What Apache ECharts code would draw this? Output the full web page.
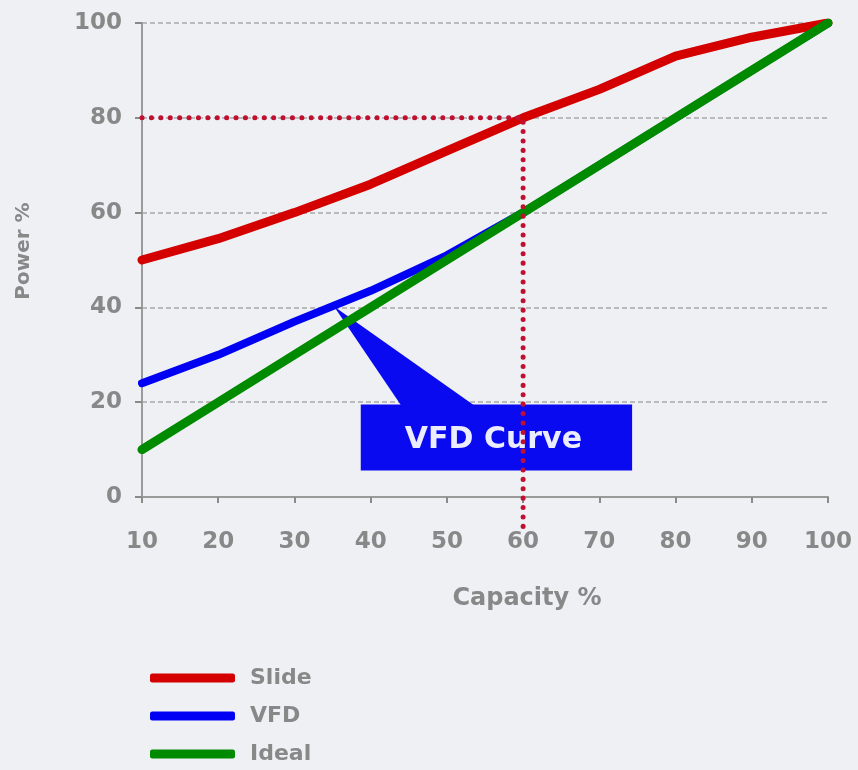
<!DOCTYPE html>
<html>
<head>
<meta charset="utf-8">
<script src="https://cdn.jsdelivr.net/npm/echarts@6/dist/echarts.min.js"></script>
<style>
  html, body { margin: 0; padding: 0; background: #eef0f4; }
  #chart { width: 858px; height: 770px; }
</style>
</head>
<body>
<div id="chart"></div>
<script>
// Capacity (%) on the x axis, power draw (%) on the y axis
const capacity = [10, 20, 30, 40, 50, 60, 70, 80, 90, 100];
const slidePower = [50, 54.5, 60, 66, 73, 80, 86, 93, 97, 100];
const vfdPower = [24, 30, 37, 43.5, 51, 60, 70, 80, 90, 100];
const idealPower = [10, 20, 30, 40, 50, 60, 70, 80, 90, 100];
const yTicks = [0, 20, 40, 60, 80, 100];

// Dotted guide: 60 % capacity -> 80 % power on the slide curve
const guideX = [10, 60, 60];
const guideY = [80, 80, -8];

// Callout box [x1, y1, x2, y2], pointer tip [x, y], pointer base [xLeft, xRight]
const calloutBox = [38.7, 19.5, 74.3, 5.6];
const calloutTip = [35.2, 40.2];
const calloutBase = [44, 53.6];
const calloutText = 'VFD Curve';

const zip = (xs, ys) => xs.map((x, i) => [x, ys[i]]);

const chart = echarts.init(document.getElementById('chart'));
const font = 'DejaVu Sans';
const grey = '#888888';

chart.setOption({
  backgroundColor: '#eef0f4',
  animation: false,
  textStyle: { fontFamily: font },
  grid: { left: 142, right: 30, top: 23, bottom: 273, containLabel: false },
  legend: {
    data: ['Slide', 'VFD', 'Ideal'],
    orient: 'vertical',
    left: 150,
    top: 666,
    padding: 0,
    icon: 'roundRect',
    itemWidth: 85,
    itemHeight: 9,
    itemGap: 14,
    textStyle: { color: grey, fontSize: 22, fontWeight: 'bold', fontFamily: font,
      lineHeight: 24, padding: [0, 0, 0, 10] }
  },
  xAxis: {
    type: 'value',
    min: 10, max: 100, interval: 10,
    name: 'Capacity %',
    nameLocation: 'middle',
    nameGap: 90,
    nameTextStyle: { color: grey, fontSize: 24, fontWeight: 'bold', padding: [0, 0, 0, 84] },
    axisLine: { lineStyle: { color: '#9a9a9a', width: 2 } },
    axisTick: { show: true, length: 6, lineStyle: { color: '#8a8a8a', width: 2 } },
    axisLabel: { color: grey, fontSize: 23, fontWeight: 'bold', margin: 34 },
    splitLine: { show: false }
  },
  yAxis: {
    type: 'value',
    min: 0, max: 100, interval: 20,
    name: 'Power %',
    nameLocation: 'middle',
    nameGap: 108,
    nameTextStyle: { color: grey, fontSize: 20, fontWeight: 'bold', padding: [0, 0, 0, 18] },
    axisLine: { show: true, lineStyle: { color: '#9a9a9a', width: 2 } },
    axisTick: { show: true, length: 7, lineStyle: { color: '#8a8a8a', width: 2 } },
    axisLabel: { color: grey, fontSize: 23, fontWeight: 'bold', margin: 20,
      formatter: v => (yTicks.includes(v) ? String(v) : '') },
    splitLine: { show: true, lineStyle: { color: '#a8a8a8', width: 1.5, type: [5, 3] } }
  },
  series: [
    {
      name: 'callout',
      type: 'custom',
      z: 1,
      clip: false,
      silent: true,
      data: [[...calloutBox, ...calloutTip, ...calloutBase]],
      encode: { x: [0, 2, 4, 6, 7], y: [1, 3, 5] },
      renderItem: (params, api) => {
        const p1 = api.coord([api.value(0), api.value(1)]);
        const p2 = api.coord([api.value(2), api.value(3)]);
        const tip = api.coord([api.value(4), api.value(5)]);
        const bl = api.coord([api.value(6), api.value(1)]);
        const br = api.coord([api.value(7), api.value(1)]);
        const fill = '#0a0af0';
        return {
          type: 'group',
          children: [
            { type: 'rect', shape: { x: p1[0], y: p1[1], width: p2[0] - p1[0], height: p2[1] - p1[1] },
              style: { fill } },
            { type: 'polygon', shape: { points: [tip, [bl[0], bl[1] + 1], [br[0], br[1] + 1]] },
              style: { fill } },
            { type: 'text', x: (p1[0] + p2[0]) / 2 - 3, y: (p1[1] + p2[1]) / 2 + 3,
              style: { text: calloutText, fill: '#ececff', fontSize: 30, fontWeight: 'bold',
                fontFamily: font, align: 'center', verticalAlign: 'middle' } }
          ]
        };
      }
    },
    {
      name: 'Slide', type: 'line', z: 3, symbol: 'none',
      data: zip(capacity, slidePower),
      lineStyle: { color: '#d40000', width: 9, cap: 'round', join: 'round' },
      itemStyle: { color: '#d40000' }
    },
    {
      name: 'VFD', type: 'line', z: 3, symbol: 'none',
      data: zip(capacity, vfdPower),
      lineStyle: { color: '#0000f5', width: 8, cap: 'round', join: 'round' },
      itemStyle: { color: '#0000f5' }
    },
    {
      name: 'Ideal', type: 'line', z: 4, symbol: 'none',
      data: zip(capacity, idealPower),
      lineStyle: { color: '#008a00', width: 9, cap: 'round', join: 'round' },
      itemStyle: { color: '#008a00' }
    },
    {
      name: 'guide', type: 'line', z: 5, symbol: 'none', clip: false, silent: true,
      data: zip(guideX, guideY),
      lineStyle: { color: '#c01030', width: 5, type: [0.1, 9.3], cap: 'round' }
    }
  ]
});
</script>
</body>
</html>
